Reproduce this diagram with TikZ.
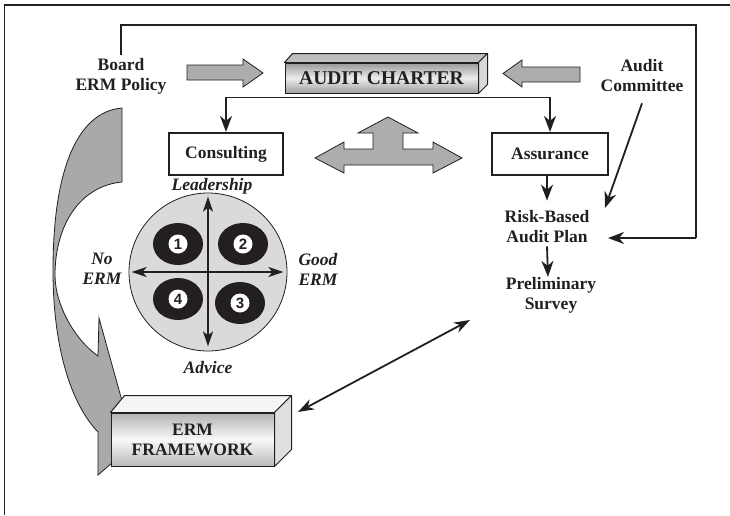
\documentclass[tikz,border=0pt]{standalone}
\usepackage{fontspec}
\setmainfont{Liberation Serif}
\newfontfamily\numfont{Liberation Sans}
\usetikzlibrary{arrows.meta}
\definecolor{arrowgray}{HTML}{ADADB0}
\definecolor{bandgray}{HTML}{A9A9AC}
\definecolor{circgray}{HTML}{DADADA}
\definecolor{ink}{HTML}{231F20}
\begin{document}
\begin{tikzpicture}[x=1pt,y=-1pt,
  txt/.style={font=\fontsize{17.5}{20}\selectfont\bfseries, align=center, inner sep=0pt, text=ink},
  itxt/.style={font=\fontsize{17.5}{20}\selectfont\bfseries\itshape, align=center, inner sep=0pt, text=ink},
  boxn/.style={draw=ink, line width=2.2pt, txt, minimum height=42pt},
  arr/.style={draw=ink, line width=1.8pt, -{Stealth[length=16pt,width=12pt,inset=5pt]}},
  axis/.style={draw=ink, line width=1.8pt, {Stealth[length=15pt,width=10pt,inset=4pt]}-{Stealth[length=15pt,width=10pt,inset=4pt]}},
  dblarr/.style={draw=ink, line width=1.8pt, {Stealth[length=16pt,width=11pt,inset=5pt]}-{Stealth[length=16pt,width=11pt,inset=5pt]}},
  blockarrow/.style={fill=arrowgray, draw=ink, line width=0.8pt, line join=miter},
  ring/.style={fill=ink},
  num/.style={circle, fill=white, minimum size=19pt, inner sep=0pt, font=\numfont\bfseries\fontsize{15}{15}\selectfont, text=ink},
  face/.style={draw=ink, line width=1pt, txt}
]
\useasboundingbox (0,0) rectangle (730,515);
\fill[white] (0,0) rectangle (730,515);
% frame
\draw[ink, line width=1.2pt] (4.5,515) -- (4.5,5) -- (730,5);

% curved gray band arrow
\filldraw[fill=bandgray, draw=ink, line width=0.8pt, line join=miter]
  (122,108) .. controls (75,112) and (53,175) .. (53,270)
  .. controls (53,350) and (72,405) .. (98,432)
  -- (98,475) -- (134,444) -- (99,318) -- (98,356)
  .. controls (75,340) and (55,305) .. (55,275)
  .. controls (55,225) and (80,186) .. (122,182) -- cycle;

% texts
\node[txt] (board) at (121,76) {Board\\ERM Policy};
\node[txt] (acom) at (642,76) {Audit\\Committee};
\node[txt] (rbap) at (547,227) {Risk-Based\\Audit Plan};
\node[txt] (prel) at (551,295) {Preliminary\\Survey};

% AUDIT CHARTER 3D box
\node[face, minimum width=193pt, minimum height=30pt, font=\fontsize{19.5}{20}\selectfont\bfseries,
      top color=gray!80, bottom color=gray!75, middle color=gray!15] (ac) at (381.5,78) {AUDIT CHARTER};
\filldraw[fill=gray!50, draw=ink, line width=1pt, line join=round]
  (ac.north west) -- ([shift={(8,-9)}]ac.north west) -- ([shift={(9,-9)}]ac.north east) -- (ac.north east) -- cycle;
\filldraw[fill=gray!30, draw=ink, line width=1pt, line join=round]
  (ac.north east) -- ([shift={(9,-9)}]ac.north east) -- ([shift={(9,-9)}]ac.south east) -- (ac.south east) -- cycle;

% block arrows
\filldraw[blockarrow] (187,65) -- (243,65) -- (243,59) -- (263,73) -- (243,87) -- (243,80) -- (187,80) -- cycle;
\filldraw[blockarrow] (580,67) -- (522,67) -- (522,60) -- (503,73.5) -- (522,87) -- (522,82) -- (580,82) -- cycle;
\filldraw[blockarrow] (315,158) -- (344,142) -- (344,149) -- (373,149) -- (373,133) -- (358,133) -- (388,117)
  -- (418,133) -- (403,133) -- (403,149) -- (433,149) -- (433,142) -- (462,158) -- (433,173)
  -- (433,165) -- (344,165) -- (344,173) -- cycle;

% consulting / assurance
\node[boxn, minimum width=114pt] (cons) at (226,154) {Consulting};
\node[boxn, minimum width=116pt] (ass) at (550,154) {Assurance};
\coordinate (split) at (388,97);
\draw[ink, line width=1pt] (cons.north |- split) -- (ass.north |- split);
\draw[arr] (cons.north |- split) -- (cons.north);
\draw[arr] (ass.north |- split) -- (ass.north);

% right-hand flow
\coordinate (rbin) at (608,238);
\coordinate (rbtop) at (605,208);
\draw[ink, line width=1.8pt] ([yshift=3pt]board.north) -- (board.north |- 0,25) -- (696,25) -- (696,238);
\draw[arr] (696,238) -- (rbin);
\draw[arr] ([yshift=-11pt]acom.south) -- (rbtop);
\draw[arr] (ass.south -| rbap.north) -- ([yshift=10pt]rbap.north);
\draw[arr] ([yshift=-3pt]rbap.south) -- ([xshift=-3pt]prel.north);

% circle matrix
\node[circle, draw=ink, line width=0.8pt, fill=circgray, minimum size=158pt, inner sep=0pt] (circ) at (208,272) {};
\fill[ring] (178,244) ellipse [x radius=25pt, y radius=21pt];
\fill[ring] (243,244) ellipse [x radius=25pt, y radius=21pt];
\fill[ring] (178,299) ellipse [x radius=25pt, y radius=21pt];
\fill[ring] (240,303) ellipse [x radius=25pt, y radius=21pt];
\node[num] (n1) at (178,244) {1};
\node[num] (n2) at (243,244) {2};
\node[num] (n4) at (178,299) {4};
\node[num] (n3) at (240,303) {3};
\draw[axis, shorten <=4pt, shorten >=5pt] (circ.north) -- (circ.south);
\draw[axis, shorten <=3pt, shorten >=4pt] (circ.west) -- (circ.east);
\node[itxt] (lead) at (212,186) {Leadership};
\node[itxt] (adv) at (208,368) {Advice};
\node[itxt] (noerm) at (102,269) {No\\ERM};
\node[itxt] (gooderm) at (318,269) {Good\\ERM};

% ERM FRAMEWORK 3D box
\node[face, minimum width=163pt, minimum height=53pt,
      top color=gray!60, bottom color=gray!55, middle color=gray!5] (erm) at (192.5,439.5) {ERM\\FRAMEWORK};
\filldraw[fill=gray!8, draw=ink, line width=1pt, line join=round]
  (erm.north west) -- ([shift={(14,-17)}]erm.north west) -- ([shift={(17,-17)}]erm.north east) -- (erm.north east) -- cycle;
\filldraw[fill=gray!25, draw=ink, line width=1pt, line join=round]
  (erm.north east) -- ([shift={(17,-17)}]erm.north east) -- ([shift={(17,-17)}]erm.south east) -- (erm.south east) -- cycle;
\coordinate (ermin) at (298,412);
\coordinate (survin) at (470,320);
\draw[dblarr] (ermin) -- (survin);
\end{tikzpicture}
\end{document}
